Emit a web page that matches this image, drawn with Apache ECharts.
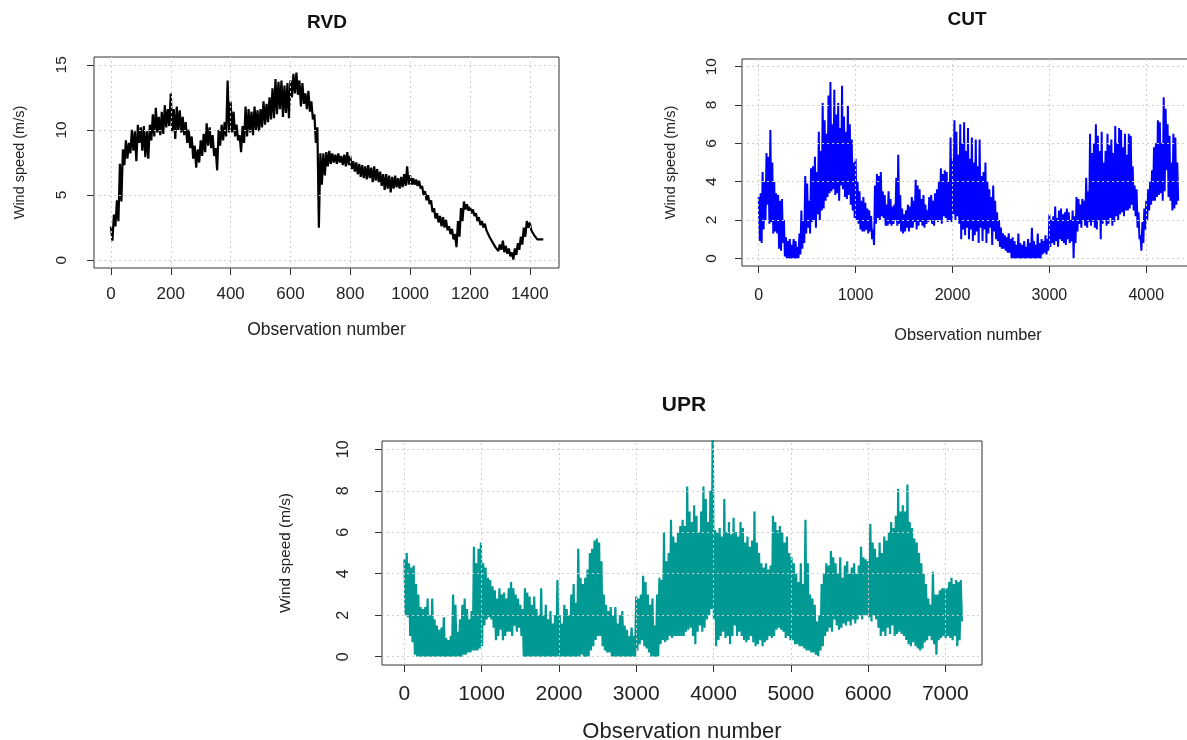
<!DOCTYPE html>
<html>
<head>
<meta charset="utf-8">
<title>Wind speed series</title>
<script src="https://cdn.jsdelivr.net/npm/echarts@6/dist/echarts.min.js"></script>
<style>
  html, body { margin: 0; padding: 0; background: #fff; }
  #main { width: 1187px; height: 740px; }
</style>
</head>
<body>
<div id="main"></div>
<script>
// each series is stored as the highest and lowest reading inside
// consecutive blocks of *Step observations, read off the plots
var rvdStep = 10;
var rvdHigh = [
  2.6, 3.5, 4.6, 7.4, 8.5, 9.2, 9.0, 10.0, 9.9, 10.4,
  10.2, 10.3, 9.9, 10.4, 11.2, 11.7, 11.0, 11.4, 11.9, 11.6,
  12.8, 11.6, 11.8, 11.5, 11.0, 10.6, 10.0, 9.5, 8.8, 8.5,
  9.2, 9.7, 10.5, 10.2, 9.6, 8.6, 10.0, 10.4, 10.6, 13.8,
  12.2, 11.4, 10.4, 9.6, 10.3, 11.8, 11.6, 11.4, 11.8, 11.5,
  11.6, 12.2, 12.0, 12.5, 13.2, 13.9, 13.7, 13.8, 13.4, 13.6,
  13.8, 14.3, 14.4, 13.8, 13.6, 12.8, 13.0, 12.2, 11.2, 10.2,
  8.2, 8.2, 8.3, 8.4, 8.2, 8.1, 8.2, 8.0, 8.1, 8.3,
  8.0, 7.6, 7.5, 7.4, 7.3, 7.2, 7.3, 7.1, 7.2, 7.0,
  6.8, 6.6, 6.6, 6.5, 6.4, 6.5, 6.3, 6.4, 6.6, 7.2,
  6.5, 6.3, 6.2, 6.1, 5.7, 5.3, 5.0, 4.6, 4.0, 3.6,
  3.4, 3.3, 3.1, 2.6, 2.4, 2.0, 3.0, 4.0, 4.5, 4.3,
  4.1, 3.9, 3.6, 3.3, 3.0, 2.8, 2.4, 1.9, 1.4, 1.1,
  1.2, 1.5, 1.1, 0.9, 0.6, 0.9, 1.3, 1.8, 2.5, 3.0,
  2.9, 2.4, 1.9, 1.7, 1.7
];
var rvdLow = [
  1.5, 2.6, 3.0, 4.5, 7.3, 7.8, 8.2, 8.4, 7.6, 9.0,
  8.4, 7.9, 7.8, 9.2, 9.5, 9.8, 9.6, 9.7, 10.2, 10.3,
  9.9, 9.3, 10.0, 9.8, 9.6, 9.0, 8.6, 7.8, 7.1, 7.5,
  8.0, 8.3, 8.8, 8.6, 8.0, 6.9, 8.8, 9.2, 9.5, 9.8,
  9.8, 9.5, 9.2, 8.3, 9.0, 9.5, 9.8, 9.6, 10.0, 9.9,
  10.2, 10.4, 10.6, 10.8, 10.9, 11.2, 11.6, 11.0, 11.3, 10.9,
  12.5, 12.8, 12.7, 11.8, 12.0, 11.6, 11.4, 10.8, 9.0, 2.5,
  5.8, 6.5, 7.2, 7.4, 7.5, 7.4, 7.5, 7.3, 7.2, 7.3,
  7.0, 6.8, 6.6, 6.4, 6.3, 6.2, 6.3, 6.0, 6.1, 6.0,
  5.7, 5.4, 5.5, 5.2, 5.5, 5.6, 5.5, 5.6, 5.7, 5.8,
  5.8, 5.8, 5.7, 5.5, 5.0, 4.6, 4.3, 3.7, 3.2, 2.9,
  2.6, 2.5, 2.3, 2.0, 1.6, 1.0, 1.8, 3.0, 3.9, 3.8,
  3.6, 3.4, 3.0, 2.7, 2.5, 2.3, 1.8, 1.4, 1.0, 0.7,
  0.8, 0.6, 0.5, 0.3, 0.05, 0.4, 0.8, 1.2, 1.8, 2.5,
  2.3, 1.9, 1.6, 1.6, 1.6
];

var cutStep = 20;
var cutHigh = [
  3.2, 3.4, 4.5, 4.0, 5.5, 5.3, 6.7, 5.0, 4.0, 3.4,
  3.3, 3.0, 3.1, 2.0, 1.1, 0.9, 1.0, 0.7, 1.0, 0.9,
  0.6, 1.3, 2.5, 2.0, 4.3, 3.9, 3.0, 4.7, 4.8, 5.3,
  4.5, 6.6, 5.6, 8.1, 7.2, 6.5, 8.5, 9.2, 7.0, 8.8,
  7.5, 8.1, 6.8, 9.0, 7.4, 6.6, 8.0, 7.0, 6.2, 5.0,
  5.2, 4.0, 3.5, 3.0, 3.2, 2.9, 2.6, 2.5, 2.2, 1.5,
  3.8, 4.4, 4.3, 4.5, 3.5, 3.3, 2.8, 3.5, 3.1, 2.7,
  2.8, 4.2, 5.4, 3.3, 2.6, 2.3, 2.5, 2.8, 2.7, 3.2,
  3.0, 4.1, 3.8, 3.6, 3.1, 3.3, 2.8, 2.5, 3.2, 3.3,
  3.0, 3.4, 3.6, 4.0, 4.7, 4.4, 4.6, 4.5, 4.0, 6.3,
  5.2, 7.2, 6.6, 5.4, 7.0, 6.0, 7.1, 5.6, 6.8, 5.2,
  6.3, 5.0, 6.2, 4.8, 6.2, 4.3, 4.5, 5.0, 4.0, 3.6,
  3.2, 3.8, 3.0, 2.4, 2.0, 1.6, 1.3, 1.2, 1.1, 1.3,
  1.0, 1.1, 0.9, 0.7, 1.3, 0.8, 0.7, 0.9, 0.6, 1.0,
  0.8, 1.6, 0.9, 0.7, 1.3, 0.8, 1.0, 0.9, 1.2, 1.0,
  2.3, 2.0, 2.2, 2.7, 2.1, 2.5, 2.6, 2.3, 2.4, 2.6,
  2.4, 2.0, 2.5, 2.2, 3.2, 3.1, 2.8, 3.1, 3.0, 4.2,
  3.5, 6.5, 5.5, 6.0, 7.0, 6.4, 5.6, 6.6, 5.0, 5.6,
  6.5, 5.9, 6.2, 5.5, 6.9, 6.0, 6.8, 6.7, 5.8, 6.5,
  5.4, 6.5, 6.4, 4.8, 3.8, 3.6, 2.4, 1.2, 1.9, 2.6,
  3.0, 3.6, 4.0, 4.6, 5.8, 6.0, 7.2, 7.1, 6.0, 8.4,
  7.8, 7.0, 6.4, 5.0, 6.5, 6.3, 5.0
];
var cutLow = [
  0.9, 0.8, 1.5, 2.0, 2.8, 1.8, 1.9, 1.3, 1.4, 1.3,
  0.5, 0.4, 0.8, 0.1, 0.0, 0.0, 0.0, 0.0, 0.0, 0.0,
  0.0, 0.2, 0.5, 0.8, 1.3, 1.6, 1.3, 1.9, 2.0, 1.6,
  2.3, 2.0, 2.5, 2.6, 3.0, 3.2, 3.4, 3.5, 3.6, 3.3,
  3.4, 3.0, 3.8, 3.6, 3.2, 3.1, 3.3, 2.8, 2.5, 2.1,
  2.0, 1.8, 1.5, 1.4, 1.4, 1.5, 1.3, 1.4, 1.0, 0.7,
  1.8, 2.1, 2.0, 2.2, 2.1, 1.7, 1.7, 1.8, 1.7, 1.8,
  2.0, 1.7, 1.8, 1.4, 1.3, 1.4, 1.6, 1.4, 1.6, 1.6,
  1.9, 1.5, 1.7, 1.9, 1.7, 1.6, 1.8, 1.9, 2.0, 1.8,
  1.7, 2.0, 1.9, 2.0, 1.8, 2.2, 2.1, 1.9, 2.0, 1.9,
  2.3, 2.0, 2.2, 1.8, 1.0, 1.5, 1.2, 1.6, 1.0, 1.5,
  0.9, 1.2, 1.4, 0.8, 1.6, 0.9, 1.5, 0.8, 1.3, 1.6,
  0.7, 1.4, 1.0, 0.9, 0.6, 0.5, 0.5, 0.4, 0.3, 0.3,
  0.0, 0.0, 0.0, 0.0, 0.0, 0.0, 0.0, 0.0, 0.0, 0.0,
  0.0, 0.0, 0.0, 0.0, 0.0, 0.0, 0.2, 0.3, 0.2, 0.4,
  0.6, 0.8, 0.7, 0.9, 0.6, 1.0, 0.9, 0.8, 0.7, 1.0,
  0.8, 0.9, 0.0, 0.8, 1.4, 1.8, 1.6, 2.0, 1.7, 1.6,
  1.9, 1.7, 1.9, 1.6, 1.5, 2.0, 1.0, 1.8, 2.0, 1.7,
  1.8, 2.1, 1.7, 1.9, 2.2, 2.0, 2.3, 2.4, 2.2, 2.5,
  2.5, 2.6, 2.8, 2.5, 2.2, 1.6, 1.0, 0.4, 0.8, 1.5,
  2.0, 2.5, 2.8, 3.0, 3.0, 3.2, 3.3, 3.4, 3.0, 3.5,
  4.6, 3.2, 3.0, 2.5, 2.6, 2.8, 3.0
];

var uprStep = 30;
var uprHigh = [
  4.7, 5.0, 4.5, 4.3, 4.4, 3.5, 3.0, 2.4, 2.3, 2.4,
  2.8, 2.0, 2.8, 1.8, 1.5, 1.3, 1.4, 1.9, 0.9, 0.8,
  1.0, 3.0, 2.5, 1.2, 1.8, 2.5, 2.8, 2.3, 1.8, 2.2,
  5.3, 4.5, 5.2, 5.5, 4.5, 4.3, 3.8, 3.7, 3.4, 3.2,
  2.8, 3.3, 3.0, 3.1, 2.8, 3.3, 3.6, 3.3, 3.0, 2.8,
  2.5, 2.3, 3.3, 3.1, 2.9, 2.5, 2.9, 2.3, 2.0, 3.3,
  2.0, 2.5, 1.8, 2.2, 1.6, 2.0, 3.7, 2.0, 1.6, 2.5,
  2.3, 2.0, 3.0, 3.5, 2.6, 5.2, 3.8, 3.5, 3.8, 4.2,
  5.0, 5.2, 5.6, 5.7, 5.5, 4.6, 3.0, 2.5, 2.2, 2.4,
  2.0, 2.4, 1.6, 2.0, 2.2, 1.5, 1.3, 1.0, 1.4, 1.0,
  2.9, 2.8, 3.0, 3.9, 3.6, 3.0, 2.5, 2.8, 1.5, 3.0,
  3.8, 3.7, 6.0, 4.6, 5.0, 6.6, 5.8, 5.5, 6.0, 6.3,
  6.6, 6.3, 8.2, 7.0, 6.5, 7.3, 6.8, 6.0, 7.0, 8.2,
  7.6, 6.5, 8.0, 11.5, 6.1, 6.0, 6.2, 5.8, 7.6, 6.0,
  6.5, 5.9, 6.7, 6.0, 5.8, 6.5, 6.2, 5.5, 5.8, 5.3,
  5.6, 7.0, 5.5, 5.0, 4.5, 4.3, 4.5, 4.2, 4.4, 6.8,
  6.5, 6.1, 6.3, 6.0, 5.5, 5.8, 5.0, 4.8, 4.5, 4.0,
  3.6, 4.5, 3.5, 6.6, 4.5, 3.0, 2.8, 2.5, 1.7, 2.0,
  3.5, 4.0, 4.5, 4.4, 5.1, 4.8, 4.5, 4.0, 4.8, 3.8,
  4.4, 4.6, 4.0, 4.3, 4.5, 4.0, 4.4, 5.3, 4.8, 4.7,
  4.6, 6.4, 5.5, 5.2, 4.8, 5.5, 5.0, 5.8, 5.6, 6.0,
  6.5, 6.2, 6.8, 8.1, 7.0, 7.3, 7.0, 8.3, 6.5, 6.2,
  5.7, 5.5, 5.0, 4.5, 4.0, 3.5, 2.8, 2.5, 4.1, 3.0,
  3.0, 3.2, 3.3, 3.3, 3.3, 3.6, 3.8, 3.5, 3.7, 3.6,
  3.7
];
var uprLow = [
  2.0, 1.9, 1.0, 0.7, 0.1, 0.0, 0.0, 0.0, 0.0, 0.0,
  0.0, 0.0, 0.0, 0.0, 0.0, 0.0, 0.0, 0.0, 0.0, 0.0,
  0.0, 0.0, 0.0, 0.0, 0.0, 0.1, 0.1, 0.2, 0.2, 0.3,
  0.3, 0.3, 0.4, 0.5, 1.5, 1.8, 1.9, 1.8, 1.4, 0.8,
  1.0, 1.3, 0.8, 1.0, 1.2, 1.2, 1.0, 1.5, 1.2, 1.4,
  1.0, 0.0, 0.0, 0.0, 0.0, 0.0, 0.0, 0.0, 0.0, 0.0,
  0.0, 0.0, 0.0, 0.0, 0.0, 0.0, 0.0, 0.0, 0.0, 0.0,
  0.0, 0.0, 0.0, 0.0, 0.0, 0.0, 0.1, 0.0, 0.0, 0.0,
  0.3, 0.5, 0.8, 1.0, 1.0, 0.5, 0.3, 0.2, 0.2, 0.0,
  0.0, 0.0, 0.0, 0.0, 0.0, 0.0, 0.0, 0.0, 0.0, 0.0,
  0.3, 0.6, 0.8, 0.5, 0.4, 0.2, 0.0, 0.0, 0.0, 0.0,
  0.6, 0.8, 0.7, 0.8, 1.0, 0.9, 1.0, 1.0, 1.0, 1.0,
  1.0, 1.2, 1.3, 1.4, 1.0, 0.6, 1.2, 1.5, 1.2, 1.4,
  1.8, 2.0, 2.3, 1.8, 0.5, 0.8, 1.0, 1.2, 0.9, 1.0,
  0.6, 1.0, 1.5, 1.0, 1.2, 1.0, 0.8, 0.7, 0.8, 1.0,
  0.7, 0.5, 0.6, 0.8, 0.5, 0.7, 0.8, 1.0, 0.9, 1.0,
  1.3, 1.4, 1.3, 1.2, 0.9, 1.0, 0.8, 0.8, 0.6, 0.6,
  0.5, 0.5, 0.4, 0.3, 0.3, 0.2, 0.2, 0.1, 0.0, 0.3,
  0.5, 1.0, 1.2, 1.4, 1.2, 1.8, 1.5, 1.3, 1.4, 1.6,
  1.5, 1.7, 1.5, 1.8, 1.6, 1.8, 2.0, 1.8, 2.0, 2.0,
  1.9, 1.7, 2.0, 1.8, 1.4, 1.0, 1.2, 1.0, 1.4, 1.1,
  1.5, 1.0, 1.1, 1.2, 1.1, 1.0, 0.8, 0.6, 0.5, 0.7,
  0.5, 0.4, 0.3, 0.4, 0.7, 0.8, 1.0, 0.8, 0.6, 0.1,
  0.8, 0.9, 1.0, 0.9, 1.0, 0.9, 0.8, 1.0, 0.5, 0.8,
  1.7
];

var rvdXTicks = [0, 200, 400, 600, 800, 1000, 1200, 1400];
var rvdYTicks = [0, 5, 10, 15];
var cutXTicks = [0, 1000, 2000, 3000, 4000];
var cutYTicks = [0, 2, 4, 6, 8, 10];
var uprXTicks = [0, 1000, 2000, 3000, 4000, 5000, 6000, 7000];
var uprYTicks = [0, 2, 4, 6, 8, 10];

var FONT = "'Liberation Sans', Arial, Helvetica, sans-serif";
var INK = '#222';

// high then low of every block, so the trace swings through the block's range
function toPoints(high, low, step) {
  var pts = [];
  for (var i = 0; i < high.length; i++) {
    pts.push([i * step, high[i]]);
    pts.push([i * step + step / 2, low[i]]);
  }
  return pts;
}

// R's grid() lines are drawn over the data, so they go in as mark lines
function gridLines(xt, yt) {
  return xt.map(function (v) { return { xAxis: v }; })
    .concat(yt.map(function (v) { return { yAxis: v }; }));
}

function plain(v) { return String(v); }

function xAxisFor(idx, ticks, min, max, fs, labelMargin, nameFs, nameGap) {
  return {
    type: 'value', gridIndex: idx, min: min, max: max,
    name: 'Observation number', nameLocation: 'middle', nameGap: nameGap,
    nameTextStyle: { fontFamily: FONT, fontSize: nameFs, color: INK },
    axisLine: { show: false, onZero: false },
    axisTick: { show: true, length: 7, customValues: ticks, lineStyle: { color: '#333', width: 1 } },
    axisLabel: { customValues: ticks, formatter: plain, margin: labelMargin, fontFamily: FONT, fontSize: fs, color: INK },
    splitLine: { show: false }
  };
}

function yAxisFor(idx, ticks, min, max, fs, labelMargin, nameFs, nameGap) {
  return {
    type: 'value', gridIndex: idx, min: min, max: max,
    name: 'Wind speed (m/s)', nameLocation: 'middle', nameRotate: 90, nameGap: nameGap,
    nameTextStyle: { fontFamily: FONT, fontSize: nameFs, color: INK },
    axisLine: { show: false, onZero: false },
    axisTick: { show: true, length: 7, customValues: ticks, lineStyle: { color: '#333', width: 1 } },
    axisLabel: { customValues: ticks, formatter: plain, rotate: 90, margin: labelMargin, fontFamily: FONT, fontSize: fs, color: INK },
    splitLine: { show: false }
  };
}

function speedSeries(idx, high, low, step, color, width, xt, yt) {
  return {
    type: 'line', xAxisIndex: idx, yAxisIndex: idx,
    data: toPoints(high, low, step),
    showSymbol: false, symbol: 'none', clip: true,
    lineStyle: { color: color, width: width },
    emphasis: { disabled: true },
    markLine: {
      silent: true, symbol: ['none', 'none'], animation: false,
      label: { show: false },
      emphasis: { disabled: true },
      lineStyle: { color: '#cfcfcf', type: [2, 3], width: 1 },
      data: gridLines(xt, yt)
    }
  };
}

function titleText(text, x, y, fs) {
  return {
    type: 'text', x: x, y: y, silent: true,
    style: {
      text: text, fill: '#111',
      font: 'bold ' + fs + 'px ' + FONT,
      textAlign: 'center', textVerticalAlign: 'middle',
      align: 'center', verticalAlign: 'middle'
    }
  };
}

var boxStyle = { show: true, borderColor: '#333', borderWidth: 1, backgroundColor: 'transparent', outerBoundsMode: 'none', containLabel: false };

var option = {
  animation: false,
  backgroundColor: '#fff',
  grid: [
    Object.assign({ left: 94, top: 57, width: 465, height: 211 }, boxStyle),
    Object.assign({ left: 742, top: 59, width: 452, height: 207 }, boxStyle),
    Object.assign({ left: 382, top: 441, width: 600, height: 224 }, boxStyle)
  ],
  xAxis: [
    xAxisFor(0, rvdXTicks, -56.6, 1497.6, 17, 18, 17.5, 53),
    xAxisFor(1, cutXTicks, -172.8, 4492.8, 16, 22, 16.3, 62),
    xAxisFor(2, uprXTicks, -290, 7475, 21, 19, 22, 56)
  ],
  yAxis: [
    yAxisFor(0, rvdYTicks, -0.6, 15.6, 15.5, 24, 14.5, 67),
    yAxisFor(1, cutYTicks, -0.4, 10.4, 15.5, 22, 14.5, 64),
    yAxisFor(2, uprYTicks, -0.4, 10.4, 16, 30, 15.3, 89)
  ],
  series: [
    speedSeries(0, rvdHigh, rvdLow, rvdStep, '#000000', 2.2, rvdXTicks, rvdYTicks),
    speedSeries(1, cutHigh, cutLow, cutStep, '#0000ff', 2, cutXTicks, cutYTicks),
    speedSeries(2, uprHigh, uprLow, uprStep, '#009994', 2.2, uprXTicks, uprYTicks)
  ],
  graphic: [
    titleText('RVD', 327, 23, 19),
    titleText('CUT', 967, 20, 19),
    titleText('UPR', 684, 405, 21)
  ]
};

var myChart = echarts.init(document.getElementById('main'), null, { renderer: 'canvas' });
myChart.setOption(option);
</script>
</body>
</html>
